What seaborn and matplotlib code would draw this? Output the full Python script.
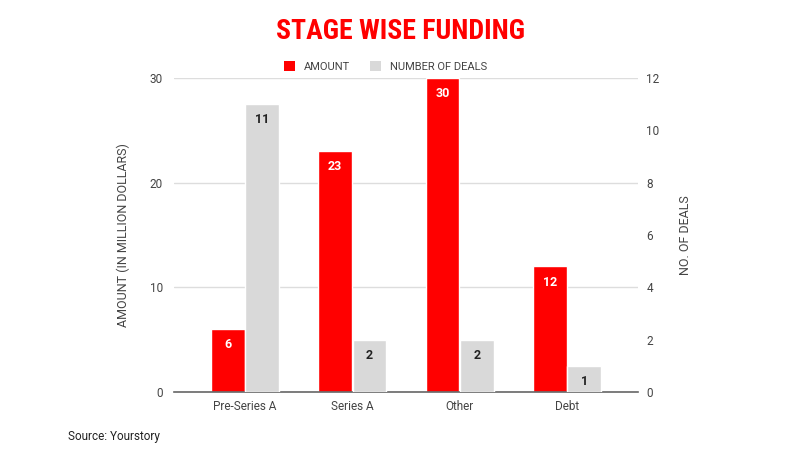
import matplotlib
matplotlib.use("Agg")
import matplotlib.pyplot as plt
import seaborn as sns
import pandas as pd
import numpy as np
from matplotlib.patches import Patch

stages = ["Pre-Series A", "Series A", "Other", "Debt"]
amount = [6, 23, 30, 12]
deals = [11, 2, 2, 1]
series_names = ["AMOUNT", "NUMBER OF DEALS"]
colors = {"AMOUNT": "#ff0000", "NUMBER OF DEALS": "#d9d9d9"}

sns.set_theme(style="white")
plt.rcParams["font.family"] = ["Roboto", "DejaVu Sans"]

nan = [np.nan] * len(stages)
# each axis gets both hue levels so the bars dodge; the other series is empty (NaN)
df_left = pd.DataFrame({"Stage": stages * 2, "Value": amount + nan,
                        "Series": ["AMOUNT"] * 4 + ["NUMBER OF DEALS"] * 4})
df_right = pd.DataFrame({"Stage": stages * 2, "Value": nan + deals,
                         "Series": ["AMOUNT"] * 4 + ["NUMBER OF DEALS"] * 4})

fig = plt.figure(figsize=(8, 4.5), dpi=100)
ax1 = fig.add_axes([0.2175, 0.129, 0.58, 0.698])
ax2 = ax1.twinx()

sns.barplot(data=df_left, x="Stage", y="Value", hue="Series", hue_order=series_names,
            order=stages, palette=colors, width=0.64, gap=0.02, ax=ax1, legend=False,
            saturation=1, errorbar=None)
sns.barplot(data=df_right, x="Stage", y="Value", hue="Series", hue_order=series_names,
            order=stages, palette=colors, width=0.64, gap=0.02, ax=ax2, legend=False,
            saturation=1, errorbar=None)

ax1.set_ylim(0, 30)
ax2.set_ylim(0, 12)
ax1.set_xlim(-0.66, 3.66)
ax1.set_yticks([0, 10, 20, 30])
ax2.set_yticks([0, 2, 4, 6, 8, 10, 12])
ax1.yaxis.grid(True, color="#dddddd", linewidth=1)
ax1.set_axisbelow(True)
ax2.grid(False)

for ax in (ax1, ax2):
    for s in ["top", "left", "right"]:
        ax.spines[s].set_visible(False)
    ax.spines["bottom"].set_color("#666666")
    ax.spines["bottom"].set_linewidth(1.2)
    ax.tick_params(axis="both", length=0, labelsize=8.5, labelcolor="#444444")
    ax.set_xlabel("")
ax2.spines["bottom"].set_visible(False)
ax1.tick_params(axis="y", pad=8)
ax2.tick_params(axis="y", pad=6)
ax1.tick_params(axis="x", pad=6)

ax1.set_ylabel("AMOUNT (IN MILLION DOLLARS)", fontsize=9, color="#444444", labelpad=14)
ax2.set_ylabel("NO. OF DEALS", fontsize=9, color="#444444", labelpad=14, rotation=90)


def valid(c):
    return len(c) == len(stages) and all(
        p is not None and np.isfinite(p.get_height()) for p in c)


for c in ax1.containers:
    if valid(c):
        ax1.bar_label(c, labels=[str(v) for v in amount], label_type="edge", padding=-16,
                      color="white", fontsize=9, fontweight="bold")
for c in ax2.containers:
    if valid(c):
        ax2.bar_label(c, labels=[str(v) for v in deals], label_type="edge", padding=-16,
                      color="#222222", fontsize=9, fontweight="bold")

fig.text(0.5, 0.93, "STAGE WISE FUNDING", ha="center", va="center", color="#ff0000",
         fontsize=20, fontweight="bold",
         family=["Roboto Condensed", "Liberation Sans Narrow", "DejaVu Sans"])

handles = [Patch(facecolor=colors[s], edgecolor="none") for s in series_names]
fig.legend(handles, series_names, loc="center", bbox_to_anchor=(0.482, 0.853), ncol=2,
           frameon=False, fontsize=8, labelcolor="#444444", handlelength=1.0,
           handleheight=1.0, handletextpad=0.8, columnspacing=1.8)

fig.text(0.085, 0.029, "Source: Yourstory", ha="left", va="center", fontsize=8.5,
         color="#222222")

fig.savefig("out.png", dpi=100)
